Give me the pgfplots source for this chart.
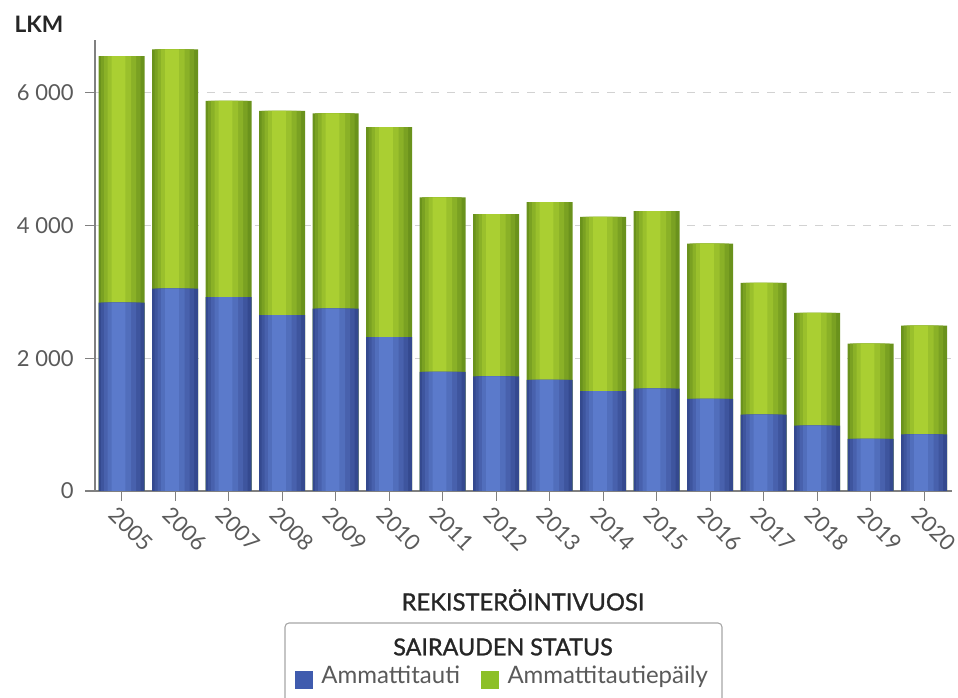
\documentclass[border=0pt]{standalone}
\usepackage{fontspec}
\setmainfont{Lato}
\newfontfamily\medfont[FakeBold=1.2]{Lato}
\usepackage{pgfplots}
\usepackage{pgfplotstable}
\pgfplotsset{compat=1.18}
\definecolor{bluedark}{HTML}{34498F}
\definecolor{bluelight}{HTML}{5B7ACB}
\definecolor{greendark}{HTML}{6A921C}
\definecolor{greenlight}{HTML}{AACF32}
\definecolor{bluesolid}{HTML}{3F5BAE}
\definecolor{greensolid}{HTML}{8DC027}
\definecolor{tickgray}{HTML}{5A5A5A}
\definecolor{axgray}{HTML}{808080}
\definecolor{headgray}{HTML}{262626}
\pgfplotstableread{
year blue total
2005 2837 6547
2006 3048 6648
2007 2917 5873
2008 2646 5723
2009 2747 5684
2010 2315 5477
2011 1792 4419
2012 1727 4167
2013 1672 4348
2014 1502 4126
2015 1542 4212
2016 1386 3726
2017 1150 3133
2018 985 2681
2019 783 2220
2020 854 2491
}\datatable
\begin{document}
\begin{tikzpicture}
\useasboundingbox (-71.25pt,-155.25pt) rectangle (647.25pt,368.25pt);
\begin{axis}[
  at={(0pt,0pt)}, anchor=south west,
  scale only axis, width=642.75pt, height=338.25pt,
  ybar, bar shift=0,
  xmin=2004.5, xmax=2020.52, ymin=0, ymax=6790,
  xtick={2005,2006,...,2020},
  ytick={0,2000,4000,6000},
  axis x line=bottom, axis y line=left,
  axis line style={-, axgray, line width=0.8pt},
  tick align=outside, major tick length=7.5pt,
  tick style={axgray, line width=0.8pt},
  xtick pos=bottom, ytick pos=left,
  ymajorgrids, grid style={dash pattern=on 6pt off 6pt, color=gray!35, line width=0.6pt},
  /pgf/number format/assume math mode=true,
  tick label style={font=\fontsize{16.5}{19}\selectfont, color=tickgray},
  x tick label style={rotate=-45, anchor=north west, xshift=-3pt, /pgf/number format/1000 sep={}},
  y tick label style={xshift=-5pt, /pgf/number format/1000 sep={\ }},
  legend columns=2,
  legend style={at={(0.2334,-0.4124)}, anchor=west, draw=none, fill=none, inner sep=0pt,
    font=\fontsize{18}{21}\selectfont, text=tickgray,
    nodes={inner sep=0pt},
    /tikz/every odd column/.append style={column sep=6.5pt},
    /tikz/every even column/.append style={column sep=16pt}},
]
\addlegendimage{legend image code/.code={\fill[bluesolid] (0pt,-9pt) rectangle (12.75pt,3.75pt);}}
\addlegendentry{Ammattitauti}
\addlegendimage{legend image code/.code={\fill[greensolid] (0pt,-9pt) rectangle (12.75pt,3.75pt);}}
\addlegendentry{Ammattitautiepäily}
% green (total) layers
\addplot[forget plot, draw=none, fill=greendark, bar width=0.86, bar shift=0] table[x=year, y=total] {\datatable};
\addplot[forget plot, draw=none, fill=greenlight!25!greendark, bar width=0.74, bar shift=-0.015] table[x=year, y=total] {\datatable};
\addplot[forget plot, draw=none, fill=greenlight!50!greendark, bar width=0.60, bar shift=-0.03] table[x=year, y=total] {\datatable};
\addplot[forget plot, draw=none, fill=greenlight!75!greendark, bar width=0.44, bar shift=-0.045] table[x=year, y=total] {\datatable};
\addplot[forget plot, draw=none, fill=greenlight, bar width=0.26, bar shift=-0.06] table[x=year, y=total] {\datatable};
% blue layers
\addplot[forget plot, draw=none, fill=bluedark, bar width=0.86, bar shift=0] table[x=year, y=blue] {\datatable};
\addplot[forget plot, draw=none, fill=bluelight!25!bluedark, bar width=0.74, bar shift=-0.015] table[x=year, y=blue] {\datatable};
\addplot[forget plot, draw=none, fill=bluelight!50!bluedark, bar width=0.60, bar shift=-0.03] table[x=year, y=blue] {\datatable};
\addplot[forget plot, draw=none, fill=bluelight!75!bluedark, bar width=0.44, bar shift=-0.045] table[x=year, y=blue] {\datatable};
\addplot[forget plot, draw=none, fill=bluelight, bar width=0.26, bar shift=-0.06] table[x=year, y=blue] {\datatable};
\end{axis}
\node[font=\bfseries\fontsize{17}{20}\selectfont, text=headgray] at (-42pt,350.25pt) {LKM};
\node[font=\medfont\fontsize{17.8}{20}\selectfont, text=headgray] at (321pt,-81.75pt) {REKISTERÖINTIVUOSI};
\node[font=\medfont\fontsize{17.5}{20}\selectfont, text=headgray] at (306pt,-117pt) {SAIRAUDEN STATUS};
\draw[gray!70, line width=0.8pt, rounded corners=3pt] (142.5pt,-170pt) |- (470.25pt,-99pt) -- (470.25pt,-170pt);
\end{tikzpicture}
\end{document}
